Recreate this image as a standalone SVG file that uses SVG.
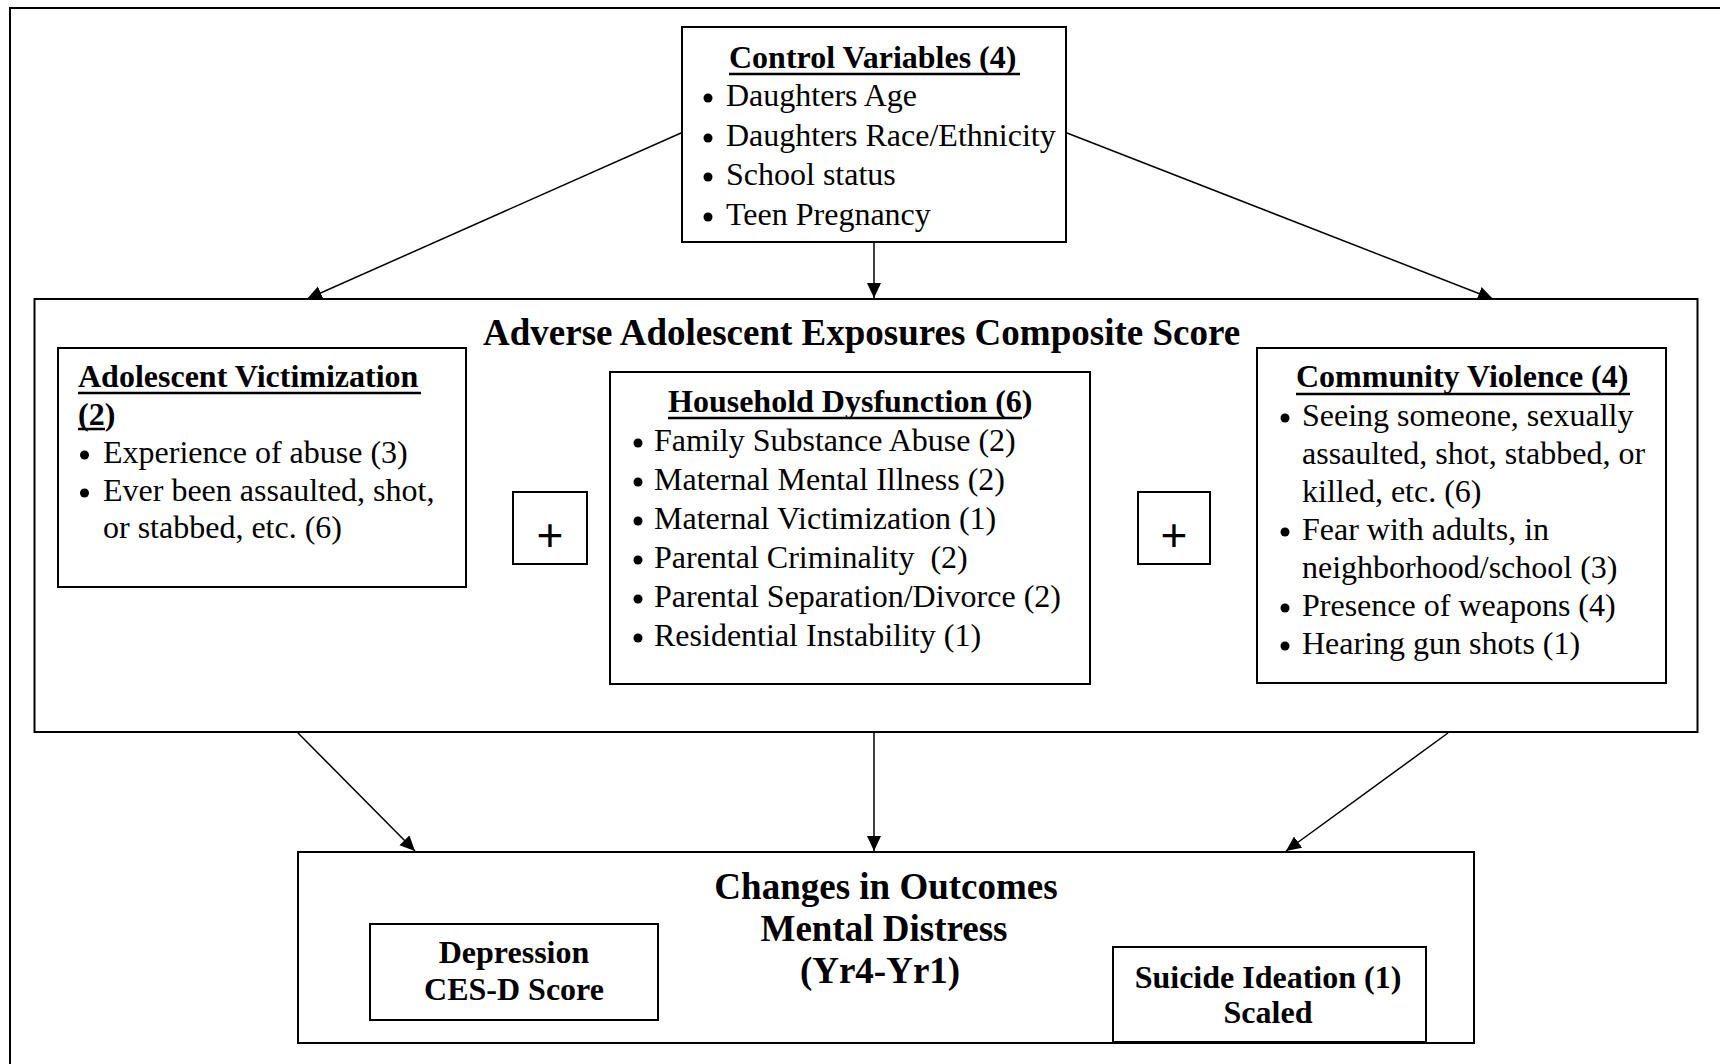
<svg xmlns="http://www.w3.org/2000/svg" width="1720" height="1064" viewBox="0 0 1720 1064">
<defs>
<style>
.box{fill:#fff;stroke:#000;stroke-width:2}
.t{font-family:"Liberation Serif","Times New Roman",serif;font-size:32px;fill:#000}
.b{font-weight:bold}
.big{font-size:37px}
.ul{stroke:#000;stroke-width:2.5}
.dot{fill:#000}
.plus{font-family:"Liberation Sans",Arial,sans-serif;font-size:46px;fill:#000;text-anchor:middle}
.c{text-anchor:middle}
.conn line{stroke:#000;stroke-width:1.5;marker-end:url(#ah)}
</style>
<marker id="ah" markerUnits="userSpaceOnUse" markerWidth="16" markerHeight="15" refX="15" refY="7" orient="auto">
<path d="M0,0 L15,7 L0,14 z" fill="#000"/>
</marker>
</defs>
<rect width="1720" height="1064" fill="#fff"/>
<path d="M10,1064 V8 H1720" fill="none" stroke="#000" stroke-width="2"/>

<g id="control">
<rect class="box" x="682" y="27" width="384" height="215"/>
<text class="t b" x="729" y="68">Control Variables (4)</text>
<line class="ul" x1="729" y1="74" x2="1020" y2="74"/>
<circle class="dot" cx="708" cy="98" r="4.5"/><text class="t" x="726" y="106">Daughters Age</text>
<circle class="dot" cx="708" cy="138" r="4.5"/><text class="t" x="726" y="146">Daughters Race/Ethnicity</text>
<circle class="dot" cx="708" cy="177" r="4.5"/><text class="t" x="726" y="185">School status</text>
<circle class="dot" cx="708" cy="217" r="4.5"/><text class="t" x="726" y="225">Teen Pregnancy</text>
</g>

<g id="composite">
<rect class="box" x="34.5" y="299" width="1663" height="433"/>
<text class="t b big" x="483" y="345">Adverse Adolescent Exposures Composite Score</text>
</g>

<g id="victimization">
<rect class="box" x="58" y="348" width="408" height="239"/>
<text class="t b" x="78" y="387">Adolescent Victimization</text>
<line class="ul" x1="78" y1="393" x2="421" y2="393"/>
<text class="t b" x="78" y="425">(2)</text>
<line class="ul" x1="78" y1="429" x2="105" y2="429"/>
<circle class="dot" cx="84.5" cy="455" r="4.5"/><text class="t" x="103" y="463">Experience of abuse (3)</text>
<circle class="dot" cx="84.5" cy="493" r="4.5"/><text class="t" x="103" y="501">Ever been assaulted, shot,</text>
<text class="t" x="103" y="538">or stabbed, etc. (6)</text>
</g>

<g id="plus1">
<rect class="box" x="513" y="492" width="74" height="72"/>
<text class="plus" x="550" y="551">+</text>
</g>

<g id="household">
<rect class="box" x="610" y="372" width="480" height="312"/>
<text class="t b" x="668" y="412">Household Dysfunction (6)</text>
<line class="ul" x1="668" y1="418" x2="1022" y2="418"/>
<circle class="dot" cx="638" cy="443" r="4.5"/><text class="t" x="654" y="451">Family Substance Abuse (2)</text>
<circle class="dot" cx="638" cy="482" r="4.5"/><text class="t" x="654" y="490">Maternal Mental Illness (2)</text>
<circle class="dot" cx="638" cy="521" r="4.5"/><text class="t" x="654" y="529">Maternal Victimization (1)</text>
<circle class="dot" cx="638" cy="560" r="4.5"/><text class="t" x="654" y="568" xml:space="preserve">Parental Criminality  (2)</text>
<circle class="dot" cx="638" cy="599" r="4.5"/><text class="t" x="654" y="607">Parental Separation/Divorce (2)</text>
<circle class="dot" cx="638" cy="638" r="4.5"/><text class="t" x="654" y="646">Residential Instability (1)</text>
</g>

<g id="plus2">
<rect class="box" x="1138" y="492" width="72" height="72"/>
<text class="plus" x="1174" y="551">+</text>
</g>

<g id="community">
<rect class="box" x="1257" y="348" width="409" height="335"/>
<text class="t b" x="1296" y="387">Community Violence (4)</text>
<line class="ul" x1="1296" y1="394" x2="1630" y2="394"/>
<circle class="dot" cx="1285" cy="418" r="4.5"/><text class="t" x="1302" y="426">Seeing someone, sexually</text>
<text class="t" x="1302" y="464">assaulted, shot, stabbed, or</text>
<text class="t" x="1302" y="502">killed, etc. (6)</text>
<circle class="dot" cx="1285" cy="532" r="4.5"/><text class="t" x="1302" y="540">Fear with adults, in</text>
<text class="t" x="1302" y="578">neighborhood/school (3)</text>
<circle class="dot" cx="1285" cy="608" r="4.5"/><text class="t" x="1302" y="616">Presence of weapons (4)</text>
<circle class="dot" cx="1285" cy="646" r="4.5"/><text class="t" x="1302" y="654">Hearing gun shots (1)</text>
</g>

<g id="outcomes">
<rect class="box" x="298" y="852" width="1176" height="191"/>
<text class="t b big c" x="886" y="899">Changes in Outcomes</text>
<text class="t b big c" x="884" y="941">Mental Distress</text>
<text class="t b big c" x="880" y="983">(Yr4-Yr1)</text>
</g>

<g id="depression">
<rect class="box" x="370" y="924" width="288" height="96"/>
<text class="t b c" x="514" y="963">Depression</text>
<text class="t b c" x="514" y="1000">CES-D Score</text>
</g>

<g id="suicide">
<rect class="box" x="1113" y="947" width="313" height="95"/>
<text class="t b c" x="1268" y="988">Suicide Ideation (1)</text>
<text class="t b c" x="1268" y="1023">Scaled</text>
</g>

<g id="connectors" class="conn">
<line x1="681" y1="133" x2="307" y2="299"/>
<line x1="874" y1="243" x2="874" y2="298"/>
<line x1="1067" y1="133" x2="1493" y2="299"/>
<line x1="298" y1="733" x2="415" y2="851"/>
<line x1="874" y1="733" x2="874" y2="851"/>
<line x1="1448" y1="733" x2="1286" y2="851"/>
</g>
</svg>
